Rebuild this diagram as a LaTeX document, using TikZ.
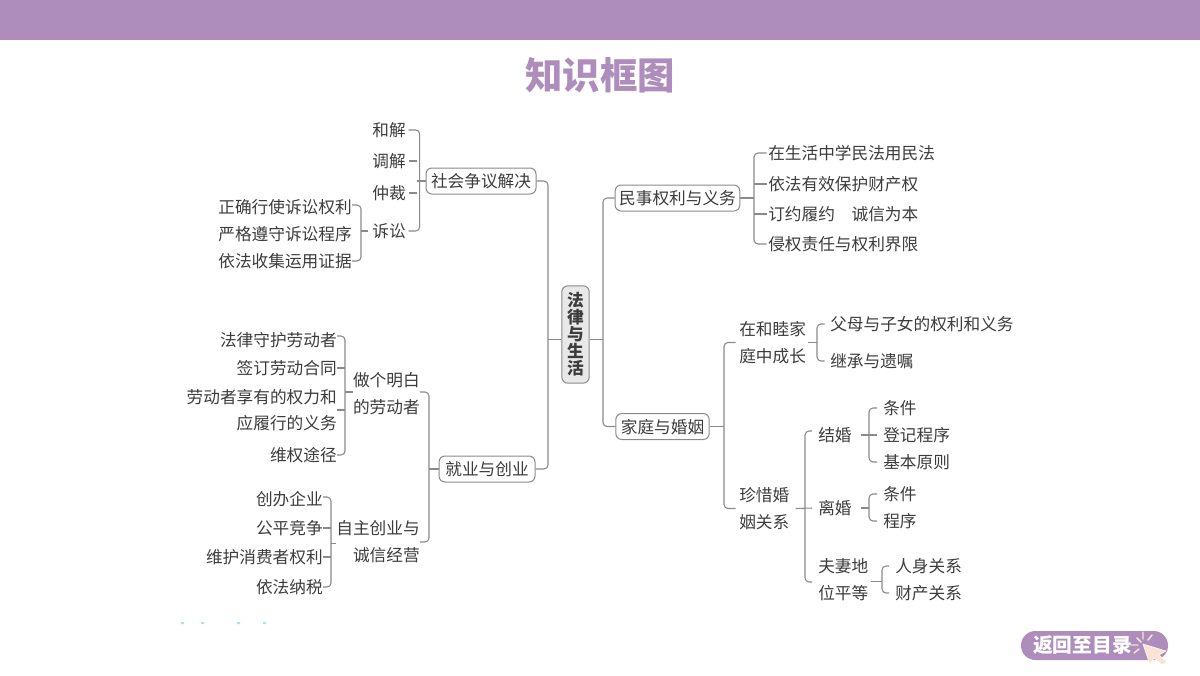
\documentclass[tikz,border=0pt]{standalone}
\usepackage{fontspec}
\setmainfont{Noto Sans CJK SC}
\definecolor{band}{HTML}{AE8CBC}
\definecolor{ink}{HTML}{3C3C3C}
\definecolor{wire}{HTML}{8A8A8A}
\definecolor{peach}{HTML}{FBE3D3}
\tikzset{
 txt/.style={font=\fontsize{12.5pt}{20.25pt}\selectfont,text=ink,inner sep=0pt,text height=11.5pt,text depth=1.6pt},
 lt/.style={txt,anchor=west},
 rt/.style={txt,anchor=east},
 multi/.style={font=\fontsize{12.5pt}{20.25pt}\selectfont,text=ink,inner sep=0pt},
 boxed/.style={txt,draw=wire,line width=0.75pt,rounded corners=4.5pt,fill=white,minimum height=19.5pt},
 wirep/.style={draw=wire,line width=0.8pt,rounded corners=3pt},
}
\begin{document}
\begin{tikzpicture}[x=0.75pt,y=-0.75pt]
\useasboundingbox (0,0) rectangle (1200,675);
\fill[band] (0,0) rectangle (1200,40);
\node[font=\fontsize{28pt}{30pt}\selectfont\bfseries,text=band,inner sep=0pt] (title) at (600,75) {知识框图};

% centre and main boxes
\node[boxed,fill=black!9,minimum width=20.5pt,minimum height=73pt,align=center,font=\fontsize{12.5pt}{12.75pt}\selectfont\bfseries,text height=,text depth=] (root) at (575.5,334.5) {法\\律\\与\\生\\活};
\node[boxed,minimum width=82.5pt] (shehui) at (481,181) {社会争议解决};
\node[boxed,minimum width=72pt] (jiuye) at (487,469) {就业与创业};
\node[boxed,minimum width=93.5pt] (minshi) at (677.5,198) {民事权利与义务};
\node[boxed,minimum width=70pt] (jiating) at (662.5,426.5) {家庭与婚姻};

% upper left
\node[rt] (hejie) at (406,130) {和解};
\node[rt] (tiaojie) at (406,161) {调解};
\node[rt] (zhongcai) at (406,193) {仲裁};
\node[rt] (susong) at (406,231) {诉讼};
\node[rt] (s1) at (352,207) {正确行使诉讼权利};
\node[rt] (s2) at (352,234) {严格遵守诉讼程序};
\node[rt] (s3) at (352,261) {依法收集运用证据};

% lower left
\node[multi,align=right,anchor=east] (mingbai) at (420,394) {做个明白\\[0pt]的劳动者};
\node[multi,align=right,anchor=east] (zizhu) at (420,542) {自主创业与\\[0pt]诚信经营};
\node[rt] (l1) at (337,340) {法律守护劳动者};
\node[rt] (l2) at (337,368) {签订劳动合同};
\node[multi,align=right,anchor=east] (l3) at (337,410) {劳动者享有的权力和\\[-1pt]应履行的义务};
\node[rt] (l4) at (337,455) {维权途径};
\node[rt] (c1) at (323,499) {创办企业};
\node[rt] (c2) at (323,528) {公平竞争};
\node[rt] (c3) at (323,557) {维护消费者权利};
\node[rt] (c4) at (323,587) {依法纳税};

% upper right
\node[lt] (m1) at (768,153) {在生活中学民法用民法};
\node[lt] (m2) at (768,184) {依法有效保护财产权};
\node[lt] (m3) at (768,214) {订约履约\hspace{1em}诚信为本};
\node[lt] (m4) at (768,244) {侵权责任与权利界限};

% lower right
\node[multi,align=left,anchor=west] (hemu) at (739,342.5) {在和睦家\\庭中成长};
\node[lt] (h1) at (830,324) {父母与子女的权利和义务};
\node[lt] (h2) at (830,361) {继承与遗嘱};
\node[multi,align=left,anchor=west] (zhenxi) at (739,508.5) {珍惜婚\\姻关系};
\node[lt] (jiehun) at (818,435) {结婚};
\node[lt] (lihun) at (818,508) {离婚};
\node[multi,align=left,anchor=west] (fuqi) at (818,580) {夫妻地\\位平等};
\node[lt] (j1) at (883,408) {条件};
\node[lt] (j2) at (883,435) {登记程序};
\node[lt] (j3) at (883,462) {基本原则};
\node[lt] (q1) at (883,494) {条件};
\node[lt] (q2) at (883,521) {程序};
\node[lt] (f1) at (895,566) {人身关系};
\node[lt] (f2) at (895,593) {财产关系};

% junction columns
\coordinate (xa) at (548,0);
\coordinate (xb) at (603,0);
\coordinate (xc) at (417,0);
\coordinate (xd) at (361,0);
\coordinate (xe) at (429,0);
\coordinate (xf) at (345,0);
\coordinate (xg) at (331,0);
\coordinate (xh) at (754,0);
\coordinate (xi) at (724,0);
\coordinate (xj) at (817,0);
\coordinate (xk) at (805,0);
\coordinate (xl) at (869,0);
\coordinate (xm) at (882,0);

% root to main
\path[wirep] (shehui.east) -- (shehui.east -| xa) -- (jiuye.east -| xa) -- (jiuye.east);
\draw[wire,line width=0.8pt] ([yshift=-3.4pt]root.west) -- ([yshift=-3.4pt]root.west -| xa);
\path[wirep] (minshi.west) -- (minshi.west -| xb) -- (jiating.west -| xb) -- (jiating.west);
\draw[wire,line width=0.8pt] ([yshift=-3.4pt]root.east) -- ([yshift=-3.4pt]root.east -| xb);

% social disputes
\path[wirep] ([xshift=2pt]hejie.east) -- ([xshift=2pt]hejie.east -| xc) -- ([xshift=2pt]susong.east -| xc) -- ([xshift=2pt]susong.east);
\draw[wire,line width=0.8pt] (shehui.west) -- (shehui.west -| xc);
\draw[wire,line width=0.8pt] ([xshift=2pt]tiaojie.east) -- (tiaojie.east -| xc);
\draw[wire,line width=0.8pt] ([xshift=2pt]zhongcai.east) -- (zhongcai.east -| xc);
\path[wirep] ([yshift=1.5pt]s1.east) -- ([yshift=1.5pt]s1.east -| xd) -- (s3.east -| xd) -- (s3.east);
\draw[wire,line width=0.8pt] ([xshift=-3pt]susong.west) -- (susong.west -| xd);

% employment
\path[wirep] ([yshift=1.5pt]mingbai.east) -- ([yshift=1.5pt]mingbai.east -| xe) -- (zizhu.east -| xe) -- (zizhu.east);
\draw[wire,line width=0.8pt] (jiuye.west) -- (jiuye.west -| xe);
\path[wirep] ([yshift=3pt]l1.east) -- ([yshift=3pt]l1.east -| xf) -- (l4.east -| xf) -- (l4.east);
\draw[wire,line width=0.8pt] (l2.east) -- (l2.east -| xf);
\draw[wire,line width=0.8pt] (l3.east) -- (l3.east -| xf);
\draw[wire,line width=0.8pt] ([yshift=1.5pt]mingbai.west) -- ([yshift=1.5pt]mingbai.west -| xf);
\path[wirep] ([yshift=1.5pt]c1.east) -- ([yshift=1.5pt]c1.east -| xg) -- (c4.east -| xg) -- (c4.east);
\draw[wire,line width=0.8pt] (c2.east) -- (c2.east -| xg);
\draw[wire,line width=0.8pt] (c3.east) -- (c3.east -| xg);
\draw[wire,line width=0.8pt] ([yshift=-1pt]zizhu.west) -- ([yshift=-1pt]zizhu.west -| xg);

% civil rights
\path[wirep] ([xshift=-1pt]m1.west) -- (m1.west -| xh) -- (m4.west -| xh) -- ([xshift=-1pt]m4.west);
\draw[wire,line width=0.8pt] (minshi.east) -- (minshi.east -| xh);
\draw[wire,line width=0.8pt] ([xshift=-1pt]m2.west) -- (m2.west -| xh);
\draw[wire,line width=0.8pt] ([xshift=-1pt]m3.west) -- (m3.west -| xh);

% family
\path[wirep] ([xshift=-2.5pt]hemu.west) -- (hemu.west -| xi) -- (zhenxi.west -| xi) -- ([xshift=-2.5pt]zhenxi.west);
\draw[wire,line width=0.8pt] (jiating.east) -- (jiating.east -| xi);
\path[wirep] ([xshift=-4pt]h1.west) -- (h1.west -| xj) -- (h2.west -| xj) -- ([xshift=-4pt]h2.west);
\draw[wire,line width=0.8pt] ([xshift=1.5pt]hemu.east) -- (hemu.east -| xj);
\path[wirep] ([xshift=-4.5pt,yshift=3pt]jiehun.west) -- ([yshift=3pt]jiehun.west -| xk) -- ([yshift=-1.5pt]fuqi.west -| xk) -- ([xshift=-4.5pt,yshift=-1.5pt]fuqi.west);
\draw[wire,line width=0.8pt] ([xshift=4.5pt]zhenxi.east) -- ([xshift=-4.5pt]lihun.west);
\path[wirep] ([xshift=-4.5pt]j1.west) -- (j1.west -| xl) -- (j3.west -| xl) -- ([xshift=-4.5pt]j3.west);
\draw[wire,line width=0.8pt] ([xshift=6.5pt]jiehun.east) -- ([xshift=-4.5pt]j2.west);
\path[wirep] ([xshift=-4.5pt]q1.west) -- (q1.west -| xl) -- (q2.west -| xl) -- ([xshift=-4.5pt]q2.west);
\draw[wire,line width=0.8pt] ([xshift=6.5pt]lihun.east) -- (lihun.east -| xl);
\path[wirep] ([xshift=-4.5pt]f1.west) -- (f1.west -| xm) -- (f2.west -| xm) -- ([xshift=-4.5pt]f2.west);
\draw[wire,line width=0.8pt] ([xshift=2pt,yshift=-1pt]fuqi.east) -- ([yshift=-1pt]fuqi.east -| xm);

% specks
\fill[cyan!35] (181,622) rectangle (184,624) (201,622) rectangle (204,624) (237,622) rectangle (240,624) (263,622) rectangle (266,624);

% return button
\fill[band,rounded corners=10.8pt] (1021,631) rectangle (1168,660);
\node[font=\fontsize{14.8pt}{16pt}\selectfont\bfseries,text=white,inner sep=0pt] (back) at (1082.5,645.5) {返回至目录};
\fill[peach,draw=white,line width=0.4pt] (1143,644) -- (1166,651) -- (1159,655) -- (1167,662) -- (1162,665) -- (1154,658) -- (1150,665) -- cycle;
\draw[peach,line width=1.1pt,line cap=round] (1137,638) -- (1141,642) (1143,632) -- (1143,639) (1152,635) -- (1148,640) (1131,645) -- (1138,645) (1134,653) -- (1139,649);
\end{tikzpicture}
\end{document}
